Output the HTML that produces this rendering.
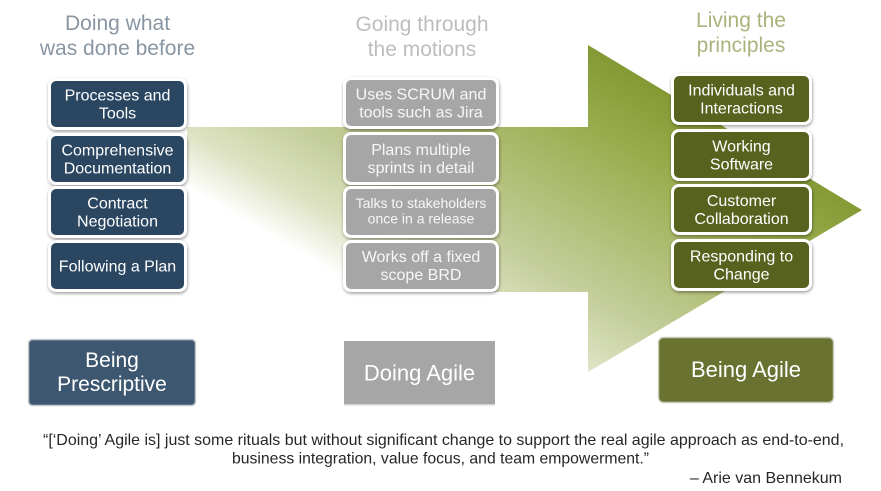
<!DOCTYPE html>
<html><head><meta charset="utf-8"><style>
html,body{margin:0;padding:0;background:#fff;}
svg{display:block;}
text{font-family:"Liberation Sans",Arial,sans-serif;}
</style></head><body>
<svg width="881" height="491" viewBox="0 0 881 491" xmlns="http://www.w3.org/2000/svg">
<defs>
<linearGradient id="ag" gradientUnits="userSpaceOnUse" x1="426.4" y1="326.6" x2="589.8" y2="45.5">
<stop offset="0" stop-color="#ffffff"/>
<stop offset="0.148" stop-color="#dde3c3"/>
<stop offset="0.335" stop-color="#c4ce9b"/>
<stop offset="0.775" stop-color="#9aad4e"/>
<stop offset="1" stop-color="#839933"/>
</linearGradient>
<filter id="sh" x="-10%" y="-10%" width="120%" height="130%">
<feGaussianBlur in="SourceAlpha" stdDeviation="1.5"/>
<feOffset dx="0.5" dy="1.5" result="o"/>
<feComponentTransfer><feFuncA type="linear" slope="0.4"/></feComponentTransfer>
<feMerge><feMergeNode/><feMergeNode in="SourceGraphic"/></feMerge>
</filter>
</defs>

<!-- arrow -->
<polygon points="187,127 588,127 588,45 862,210 588,372 588,292 187,292" fill="url(#ag)"/>

<!-- titles -->
<g font-size="21" text-anchor="middle">
<text x="117.5" y="30" fill="#8896a3">Doing what</text>
<text x="117.5" y="55" fill="#8896a3">was done before</text>
<text x="422" y="31" fill="#bdbdbd">Going through</text>
<text x="422" y="56" fill="#bdbdbd">the motions</text>
<text x="741" y="27" fill="#a9b47c">Living the</text>
<text x="741" y="52" fill="#a9b47c">principles</text>
</g>

<!-- left boxes -->
<g filter="url(#sh)">
<rect x="48" y="78" width="139" height="52" rx="8" fill="#fff"/>
<rect x="48" y="133" width="139" height="52" rx="8" fill="#fff"/>
<rect x="48" y="186" width="139" height="52" rx="8" fill="#fff"/>
<rect x="48" y="240" width="139" height="52" rx="8" fill="#fff"/>
</g>
<g fill="#2b4661">
<rect x="51" y="81" width="133" height="46" rx="5"/>
<rect x="51" y="136" width="133" height="46" rx="5"/>
<rect x="51" y="189" width="133" height="46" rx="5"/>
<rect x="51" y="243" width="133" height="46" rx="5"/>
</g>
<g font-size="16" fill="#fff" text-anchor="middle">
<text x="117.5" y="100.5">Processes and</text>
<text x="117.5" y="118.5">Tools</text>
<text x="117.5" y="155.5">Comprehensive</text>
<text x="117.5" y="173.5">Documentation</text>
<text x="117.5" y="208.5">Contract</text>
<text x="117.5" y="226.5">Negotiation</text>
<text x="117.5" y="271.5">Following a Plan</text>
</g>

<!-- middle boxes -->
<g filter="url(#sh)">
<rect x="343" y="77" width="156" height="52" rx="8" fill="#fff"/>
<rect x="343" y="132" width="156" height="53" rx="8" fill="#fff"/>
<rect x="343" y="186" width="156" height="52" rx="8" fill="#fff"/>
<rect x="343" y="240" width="156" height="52" rx="8" fill="#fff"/>
</g>
<g fill="#a6a6a6">
<rect x="346" y="80" width="150" height="46" rx="5"/>
<rect x="346" y="135" width="150" height="47" rx="5"/>
<rect x="346" y="189" width="150" height="46" rx="5"/>
<rect x="346" y="243" width="150" height="46" rx="5"/>
</g>
<g font-size="16" fill="#f7f7f7" text-anchor="middle">
<text x="421" y="99.5">Uses SCRUM and</text>
<text x="421" y="117.5">tools such as Jira</text>
<text x="421" y="155">Plans multiple</text>
<text x="421" y="173">sprints in detail</text>
<text x="421" y="262">Works off a fixed</text>
<text x="421" y="280">scope BRD</text>
</g>
<g font-size="14" fill="#f7f7f7" text-anchor="middle">
<text x="421" y="208">Talks to stakeholders</text>
<text x="421" y="223.5">once in a release</text>
</g>

<!-- right boxes -->
<g filter="url(#sh)">
<rect x="671" y="73" width="141" height="52" rx="8" fill="#fff"/>
<rect x="671" y="129" width="141" height="52" rx="8" fill="#fff"/>
<rect x="671" y="184" width="141" height="51" rx="8" fill="#fff"/>
<rect x="671" y="239" width="141" height="52" rx="8" fill="#fff"/>
</g>
<g fill="#58621f">
<rect x="674" y="76" width="135" height="46" rx="5"/>
<rect x="674" y="132" width="135" height="46" rx="5"/>
<rect x="674" y="187" width="135" height="45" rx="5"/>
<rect x="674" y="242" width="135" height="46" rx="5"/>
</g>
<g font-size="16" fill="#fff" text-anchor="middle">
<text x="741.5" y="95.5">Individuals and</text>
<text x="741.5" y="113.5">Interactions</text>
<text x="741.5" y="151.5">Working</text>
<text x="741.5" y="169.5">Software</text>
<text x="741.5" y="206">Customer</text>
<text x="741.5" y="224">Collaboration</text>
<text x="741.5" y="261.5">Responding to</text>
<text x="741.5" y="279.5">Change</text>
</g>

<!-- bottom boxes -->
<rect x="28.5" y="339.5" width="167" height="66" rx="4" fill="#3e5770" stroke="#c5cacf" stroke-width="1.5"/>
<text x="112" y="367" font-size="21" fill="#fff" text-anchor="middle">Being</text>
<text x="112" y="391" font-size="21" fill="#fff" text-anchor="middle">Prescriptive</text>

<rect x="344" y="341" width="151" height="64" fill="#a6a6a6"/>
<rect x="344" y="404" width="151" height="1.5" fill="#d4d4d4"/>
<text x="419.5" y="380.5" font-size="22" fill="#fff" text-anchor="middle">Doing Agile</text>

<rect x="658.5" y="337.5" width="175" height="65" rx="5" fill="#6a7232" stroke="#c9ccbb" stroke-width="1.5"/>
<text x="746" y="377" font-size="22" fill="#fff" text-anchor="middle">Being Agile</text>

<!-- quote -->
<g font-size="16" fill="#262626">
<text x="43" y="445" textLength="801" lengthAdjust="spacingAndGlyphs">“[‘Doing’ Agile is] just some rituals but without significant change to support the real agile approach as end-to-end,</text>
<text x="232" y="463.5" textLength="417" lengthAdjust="spacingAndGlyphs">business integration, value focus, and team empowerment.”</text>
</g>
<text x="842" y="483" font-size="16" fill="#262626" text-anchor="end">– Arie van Bennekum</text>
</svg>
</body></html>
